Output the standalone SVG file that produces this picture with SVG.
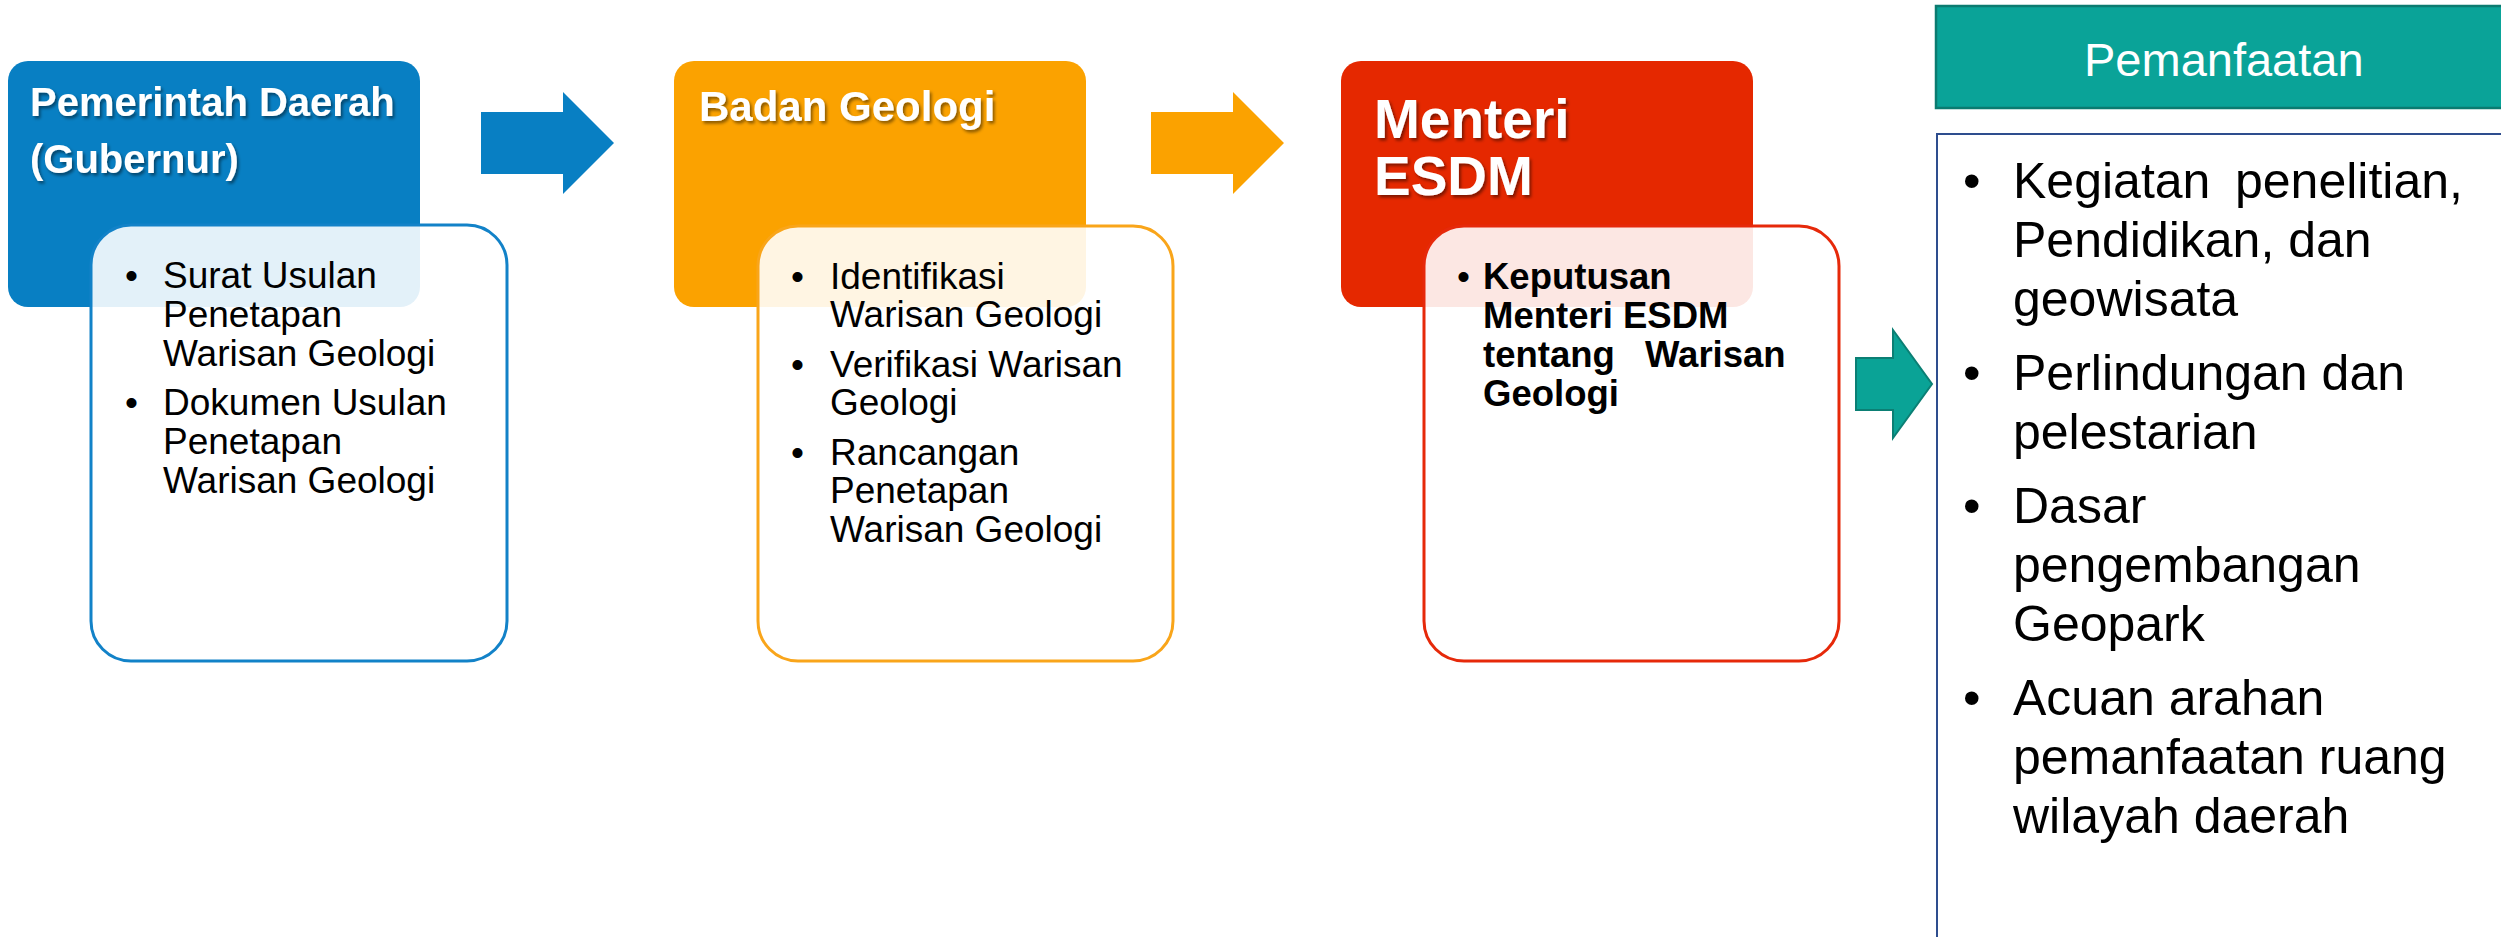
<svg xmlns="http://www.w3.org/2000/svg" width="2501" height="937" viewBox="0 0 2501 937">
<defs>
<filter id="shadow" x="-10%" y="-20%" width="120%" height="150%">
<feDropShadow dx="2" dy="2.5" stdDeviation="1.5" flood-color="#000" flood-opacity="0.45"/>
</filter>
</defs>
<style>
.title{font-family:"Liberation Sans",Arial,sans-serif;font-weight:bold;fill:#fff;filter:url(#shadow)}
.body{font-family:"Liberation Sans",Arial,sans-serif;font-size:37px;fill:#000}
.bold{font-weight:bold;font-size:36.5px}
.right{font-family:"Liberation Sans",Arial,sans-serif;font-size:50px;fill:#000}
.inner{fill:#fff;fill-opacity:0.89;stroke-width:3}
</style>
<rect width="2501" height="937" fill="#fff"/>

<g id="connectors">
<polygon points="481,112 563,112 563,92 614,143 563,194 563,174 481,174" fill="#087fc3"/>
<polygon points="1151,112 1233,112 1233,92 1284,143 1233,194 1233,174 1151,174" fill="#fba200"/>
<polygon points="1856,358 1893,358 1893,330 1932,384 1893,438 1893,410 1856,410" fill="#0aa396" stroke="#0b7f74" stroke-width="2"/>
</g>

<g id="pemerintah">
<rect x="8" y="61" width="412" height="246" rx="20" fill="#087fc3"/>
<text class="title" font-size="40" x="30" y="116">Pemerintah Daerah</text>
<text class="title" font-size="40" x="30" y="173">(Gubernur)</text>
<rect class="inner" x="91" y="225" width="416" height="436" rx="40" stroke="#1282c8"/>
<g class="body">
<text x="125" y="288">•</text>
<text x="163" y="288">Surat Usulan</text>
<text x="163" y="327">Penetapan</text>
<text x="163" y="366">Warisan Geologi</text>
<text x="125" y="415">•</text>
<text x="163" y="415">Dokumen Usulan</text>
<text x="163" y="454">Penetapan</text>
<text x="163" y="493">Warisan Geologi</text>
</g>
</g>

<g id="badan">
<rect x="674" y="61" width="412" height="246" rx="20" fill="#fba200"/>
<text class="title" font-size="42" x="699" y="121">Badan Geologi</text>
<rect class="inner" x="758" y="226" width="415" height="435" rx="40" stroke="#f9a51a"/>
<g class="body">
<text x="791" y="289">•</text>
<text x="830" y="289">Identifikasi</text>
<text x="830" y="327">Warisan Geologi</text>
<text x="791" y="377">•</text>
<text x="830" y="377">Verifikasi Warisan</text>
<text x="830" y="415">Geologi</text>
<text x="791" y="465">•</text>
<text x="830" y="465">Rancangan</text>
<text x="830" y="503">Penetapan</text>
<text x="830" y="542">Warisan Geologi</text>
</g>
</g>

<g id="menteri">
<rect x="1341" y="61" width="412" height="246" rx="20" fill="#e52800"/>
<text class="title" font-size="55" x="1374" y="138">Menteri</text>
<text class="title" font-size="55" x="1374" y="195">ESDM</text>
<rect class="inner" x="1424" y="226" width="415" height="435" rx="40" stroke="#e6290a"/>
<g class="body">
<text x="1457" y="289">•</text>
<text class="bold" x="1483" y="289">Keputusan</text>
<text class="bold" x="1483" y="328">Menteri ESDM</text>
<text class="bold" x="1483" y="367">tentang</text>
<text class="bold" x="1645" y="367">Warisan</text>
<text class="bold" x="1483" y="406">Geologi</text>
</g>
</g>

<g id="pemanfaatan">
<rect x="1936" y="6" width="600" height="102" fill="#0aa398" stroke="#0b7b70" stroke-width="2.5"/>
<text x="2084" y="76" font-family="'Liberation Sans',Arial,sans-serif" font-size="47" fill="#fff">Pemanfaatan</text>
<rect x="1937" y="134" width="600" height="850" fill="#fff" stroke="#2e4d8e" stroke-width="2"/>
<g class="right">
<text x="1963" y="198">•</text>
<text x="2013" y="198">Kegiatan</text>
<text x="2235" y="198">penelitian,</text>
<text x="2013" y="257">Pendidikan, dan</text>
<text x="2013" y="316">geowisata</text>
<text x="1963" y="390">•</text>
<text x="2013" y="390">Perlindungan dan</text>
<text x="2013" y="449">pelestarian</text>
<text x="1963" y="523">•</text>
<text x="2013" y="523">Dasar</text>
<text x="2013" y="582">pengembangan</text>
<text x="2013" y="641">Geopark</text>
<text x="1963" y="715">•</text>
<text x="2013" y="715">Acuan arahan</text>
<text x="2013" y="774">pemanfaatan ruang</text>
<text x="2013" y="833">wilayah daerah</text>
</g>
</g>
</svg>
